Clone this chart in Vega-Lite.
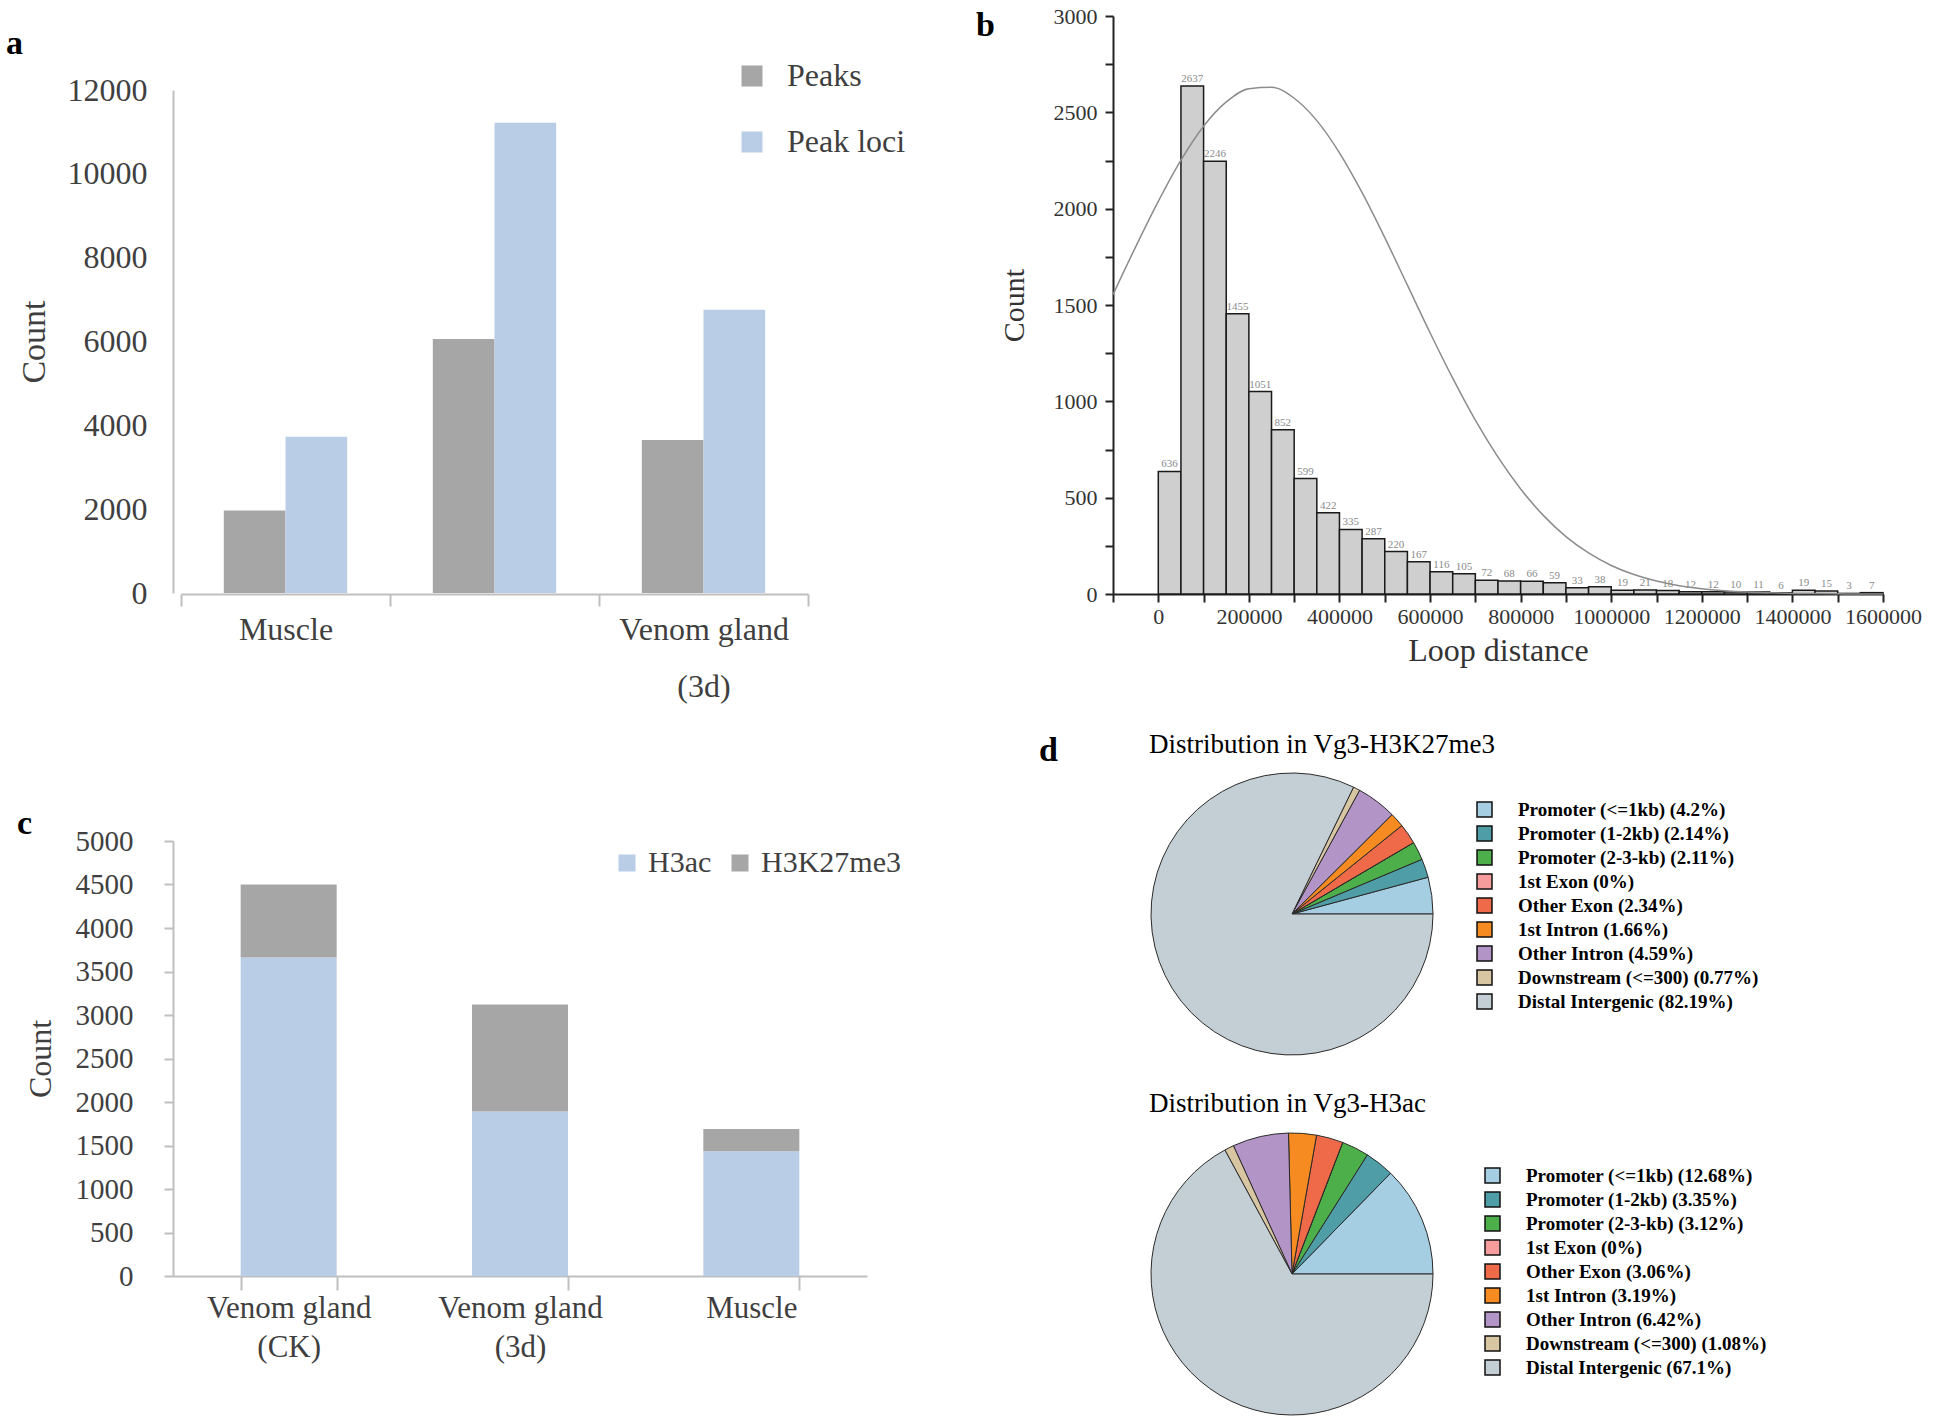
{
  "$schema": "https://vega.github.io/schema/vega-lite/v6.json",
  "background": "white",
  "padding": {"left": 6, "top": 5, "right": 0, "bottom": 0},
  "config": {"view": {"stroke": null}, "font": "Liberation Serif"},
  "datasets": {
    "bins": [
      {"start": 0, "end": 50000, "mid": 25000, "count": 636},
      {"start": 50000, "end": 100000, "mid": 75000, "count": 2637},
      {"start": 100000, "end": 150000, "mid": 125000, "count": 2246},
      {"start": 150000, "end": 200000, "mid": 175000, "count": 1455},
      {"start": 200000, "end": 250000, "mid": 225000, "count": 1051},
      {"start": 250000, "end": 300000, "mid": 275000, "count": 852},
      {"start": 300000, "end": 350000, "mid": 325000, "count": 599},
      {"start": 350000, "end": 400000, "mid": 375000, "count": 422},
      {"start": 400000, "end": 450000, "mid": 425000, "count": 335},
      {"start": 450000, "end": 500000, "mid": 475000, "count": 287},
      {"start": 500000, "end": 550000, "mid": 525000, "count": 220},
      {"start": 550000, "end": 600000, "mid": 575000, "count": 167},
      {"start": 600000, "end": 650000, "mid": 625000, "count": 116},
      {"start": 650000, "end": 700000, "mid": 675000, "count": 105},
      {"start": 700000, "end": 750000, "mid": 725000, "count": 72},
      {"start": 750000, "end": 800000, "mid": 775000, "count": 68},
      {"start": 800000, "end": 850000, "mid": 825000, "count": 66},
      {"start": 850000, "end": 900000, "mid": 875000, "count": 59},
      {"start": 900000, "end": 950000, "mid": 925000, "count": 33},
      {"start": 950000, "end": 1000000, "mid": 975000, "count": 38},
      {"start": 1000000, "end": 1050000, "mid": 1025000, "count": 19},
      {"start": 1050000, "end": 1100000, "mid": 1075000, "count": 21},
      {"start": 1100000, "end": 1150000, "mid": 1125000, "count": 18},
      {"start": 1150000, "end": 1200000, "mid": 1175000, "count": 12},
      {"start": 1200000, "end": 1250000, "mid": 1225000, "count": 12},
      {"start": 1250000, "end": 1300000, "mid": 1275000, "count": 10},
      {"start": 1300000, "end": 1350000, "mid": 1325000, "count": 11},
      {"start": 1350000, "end": 1400000, "mid": 1375000, "count": 6},
      {"start": 1400000, "end": 1450000, "mid": 1425000, "count": 19},
      {"start": 1450000, "end": 1500000, "mid": 1475000, "count": 15},
      {"start": 1500000, "end": 1550000, "mid": 1525000, "count": 3},
      {"start": 1550000, "end": 1600000, "mid": 1575000, "count": 7}
    ]
  },
  "spacing": 70,
  "resolve": {"scale": {"color": "independent", "theta": "independent"}, "legend": {"color": "independent"}},
  "hconcat": [
    {
      "spacing": 105,
      "resolve": {"scale": {"color": "independent"}, "legend": {"color": "independent"}},
      "vconcat": [
        {
          "width": 635,
          "height": 578,
          "layer": [
            {
              "data": {"values": [
                {"tissue": "Muscle", "series": "Peaks", "count": 1970},
                {"tissue": "Muscle", "series": "Peak loci", "count": 3730},
                {"tissue": "Venom gland (CK)", "series": "Peaks", "count": 6060},
                {"tissue": "Venom gland (CK)", "series": "Peak loci", "count": 11220},
                {"tissue": "Venom gland (3d)", "series": "Peaks", "count": 3650},
                {"tissue": "Venom gland (3d)", "series": "Peak loci", "count": 6760}
              ]},
              "mark": {"type": "bar"},
              "encoding": {
                "x": {"field": "tissue", "type": "nominal", "sort": ["Muscle", "Venom gland (CK)", "Venom gland (3d)"],
                  "scale": {"range": [8, 635], "paddingInner": 0, "paddingOuter": 0},
                  "axis": {"title": null, "labelAngle": 0, "tickBand": "extent", "domainColor": "#bfbfbf", "domainWidth": 2, "tickColor": "#bfbfbf", "tickWidth": 2, "tickSize": 12, "labelPadding": 8, "labelFontSize": 32, "labelColor": "#3f3f3f", "labelFont": "Liberation Serif", "labelLineHeight": 57, "labelBaseline": "top",
                    "labelExpr": "datum.value == 'Venom gland (3d)' ? ['Venom gland', '(3d)'] : (datum.value == 'Muscle' ? 'Muscle' : '')"}},
                "xOffset": {"field": "series", "type": "nominal", "sort": ["Peaks", "Peak loci"], "scale": {"paddingOuter": 0.694, "paddingInner": 0}},
                "y": {"field": "count", "type": "quantitative", "scale": {"domain": [0, 12000], "range": [577, 74], "nice": false},
                  "axis": {"values": [0, 2000, 4000, 6000, 8000, 10000, 12000], "format": "d", "grid": false, "ticks": false, "domainColor": "#bfbfbf", "domainWidth": 2, "labelPadding": 26, "labelFontSize": 32, "labelColor": "#3f3f3f", "title": "Count", "titleFontSize": 34, "titleFontWeight": "normal", "titleColor": "#3f3f3f", "titlePadding": 16}},
                "color": {"field": "series", "type": "nominal", "scale": {"domain": ["Peaks", "Peak loci"], "range": ["#a6a6a6", "#bacde7"]},
                  "legend": {"title": null, "orient": "none", "legendX": 563, "legendY": 44, "symbolType": "square", "symbolSize": 441, "symbolStrokeWidth": 0, "labelFontSize": 32, "labelColor": "#3f3f3f", "labelFont": "Liberation Serif", "labelOffset": 19, "rowPadding": 34}}
              }
            },
            {
              "data": {"values": [{"letter": "a"}]},
              "mark": {"type": "text", "align": "left", "baseline": "alphabetic", "dx": -484.5, "dy": -251, "fontSize": 34, "fontWeight": "bold", "font": "Liberation Serif", "color": "#000"},
              "encoding": {"text": {"field": "letter", "type": "nominal"}}
            }
          ]
        },
        {
          "width": 694,
          "height": 435,
          "layer": [
            {
              "data": {"values": [
                {"tissue": "Venom gland (CK)", "mark": "H3ac", "count": 3660},
                {"tissue": "Venom gland (CK)", "mark": "H3K27me3", "count": 840},
                {"tissue": "Venom gland (3d)", "mark": "H3ac", "count": 1890},
                {"tissue": "Venom gland (3d)", "mark": "H3K27me3", "count": 1230},
                {"tissue": "Muscle", "mark": "H3ac", "count": 1435},
                {"tissue": "Muscle", "mark": "H3K27me3", "count": 255}
              ]},
              "mark": {"type": "bar"},
              "encoding": {
                "x": {"field": "tissue", "type": "nominal", "sort": ["Venom gland (CK)", "Venom gland (3d)", "Muscle"],
                  "scale": {"paddingInner": 0.585, "paddingOuter": 0.2925},
                  "axis": {"title": null, "labelAngle": 0, "tickBand": "extent", "domainColor": "#bfbfbf", "domainWidth": 2, "tickColor": "#bfbfbf", "tickWidth": 2, "tickSize": 14, "labelPadding": 3, "labelFontSize": 31, "labelColor": "#3f3f3f", "labelFont": "Liberation Serif", "labelLineHeight": 39, "labelBaseline": "top",
                    "labelExpr": "datum.value == 'Venom gland (CK)' ? ['Venom gland', '(CK)'] : (datum.value == 'Venom gland (3d)' ? ['Venom gland', '(3d)'] : (datum.value == 'Muscle' ? 'Muscle' : ''))"}},
                "y": {"field": "count", "type": "quantitative", "stack": "zero", "scale": {"domain": [0, 5000], "nice": false},
                  "axis": {"values": [0, 500, 1000, 1500, 2000, 2500, 3000, 3500, 4000, 4500, 5000], "format": "d", "grid": false, "tickSize": 9, "tickColor": "#bfbfbf", "tickWidth": 2, "domainColor": "#bfbfbf", "domainWidth": 2, "labelPadding": 31, "labelFontSize": 29, "labelColor": "#3f3f3f", "title": "Count", "titleFontSize": 32, "titleFontWeight": "normal", "titleColor": "#3f3f3f", "titlePadding": 18}},
                "color": {"field": "mark", "type": "nominal", "scale": {"domain": ["H3ac", "H3K27me3"], "range": ["#bacde7", "#a6a6a6"]},
                  "legend": {"title": null, "orient": "none", "direction": "horizontal", "legendX": 439, "legendY": 7, "symbolType": "square", "symbolSize": 289, "symbolStrokeWidth": 0, "labelFontSize": 30, "labelColor": "#3f3f3f", "labelFont": "Liberation Serif", "labelOffset": 6, "columnPadding": 13}},
                "order": {"field": "mark", "type": "nominal", "sort": "descending"}
              }
            },
            {
              "data": {"values": [{"letter": "c"}]},
              "mark": {"type": "text", "align": "left", "baseline": "alphabetic", "dx": -503, "dy": -224.5, "fontSize": 34, "fontWeight": "bold", "font": "Liberation Serif", "color": "#000"},
              "encoding": {"text": {"field": "letter", "type": "nominal"}}
            }
          ]
        }
      ]
    },
    {
      "spacing": 65,
      "resolve": {"scale": {"color": "independent", "theta": "independent"}, "legend": {"color": "independent"}},
      "vconcat": [
        {
          "width": 770,
          "height": 578,
          "layer": [
            {
              "data": {"name": "bins"},
              "mark": {"type": "bar", "fill": "#cfcfcf", "stroke": "#1a1a1a", "strokeWidth": 1.5},
              "encoding": {
                "x": {"field": "start", "type": "quantitative", "scale": {"domain": [-100000, 1600000], "nice": false, "zero": false},
                  "axis": {"title": "Loop distance", "values": [-100000, 0, 100000, 200000, 300000, 400000, 500000, 600000, 700000, 800000, 900000, 1000000, 1100000, 1200000, 1300000, 1400000, 1500000, 1600000], "format": "d", "labelExpr": "(datum.value >= 0 && datum.value % 200000 == 0) ? datum.label : ''", "grid": false, "domainColor": "#222", "domainWidth": 2, "tickColor": "#222", "tickWidth": 2, "tickSize": 8, "labelPadding": 4, "labelFontSize": 22, "labelColor": "#333", "labelFlush": false, "labelOverlap": false, "titleFontSize": 32, "titleFontWeight": "normal", "titleColor": "#333", "titlePadding": 8}},
                "x2": {"field": "end"},
                "y": {"field": "count", "type": "quantitative", "scale": {"domain": [0, 3000], "nice": false},
                  "axis": {"title": "Count", "values": [0, 250, 500, 750, 1000, 1250, 1500, 1750, 2000, 2250, 2500, 2750, 3000], "format": "d", "labelExpr": "datum.value % 500 == 0 ? datum.label : ''", "grid": false, "domainColor": "#222", "domainWidth": 2, "tickColor": "#222", "tickWidth": 2, "tickSize": 8, "labelPadding": 8, "labelFontSize": 22, "labelColor": "#333", "labelOverlap": false, "titleFontSize": 30, "titleFontWeight": "normal", "titleColor": "#333", "titlePadding": 24}},
                "y2": {"datum": 0}
              }
            },
            {
              "data": {"name": "bins"},
              "mark": {"type": "text", "baseline": "bottom", "dy": -2, "fontSize": 11, "color": "#8a8a8a", "font": "Liberation Serif"},
              "encoding": {
                "x": {"field": "mid", "type": "quantitative"},
                "y": {"field": "count", "type": "quantitative"},
                "text": {"field": "count", "type": "quantitative"}
              }
            },
            {
              "data": {"values": [
                {"x": -100000, "y": 1554}, {"x": -50000, "y": 1802}, {"x": 0, "y": 2038}, {"x": 50000, "y": 2252},
                {"x": 100000, "y": 2428}, {"x": 150000, "y": 2554}, {"x": 200000, "y": 2623}, {"x": 250000, "y": 2630},
                {"x": 300000, "y": 2573}, {"x": 350000, "y": 2457}, {"x": 400000, "y": 2290}, {"x": 450000, "y": 2083},
                {"x": 500000, "y": 1850}, {"x": 550000, "y": 1603}, {"x": 600000, "y": 1356}, {"x": 650000, "y": 1120},
                {"x": 700000, "y": 902}, {"x": 750000, "y": 710}, {"x": 800000, "y": 545}, {"x": 850000, "y": 408},
                {"x": 900000, "y": 298}, {"x": 950000, "y": 213}, {"x": 1000000, "y": 148}, {"x": 1050000, "y": 101},
                {"x": 1100000, "y": 67}, {"x": 1150000, "y": 43}, {"x": 1200000, "y": 27}, {"x": 1250000, "y": 17},
                {"x": 1300000, "y": 10}, {"x": 1350000, "y": 6}, {"x": 1400000, "y": 3}, {"x": 1450000, "y": 2},
                {"x": 1500000, "y": 1}, {"x": 1550000, "y": 0}, {"x": 1600000, "y": 0}
              ]},
              "mark": {"type": "line", "color": "#8c8c8c", "strokeWidth": 1.5, "interpolate": "monotone"},
              "encoding": {
                "x": {"field": "x", "type": "quantitative"},
                "y": {"field": "y", "type": "quantitative"}
              }
            },
            {
              "data": {"values": [{"letter": "b"}]},
              "mark": {"type": "text", "align": "left", "baseline": "alphabetic", "dx": -522, "dy": -269, "fontSize": 34, "fontWeight": "bold", "font": "Liberation Serif", "color": "#000"},
              "encoding": {"text": {"field": "letter", "type": "nominal"}}
            }
          ]
        },
        {
          "spacing": 33,
          "resolve": {"scale": {"color": "independent", "theta": "independent"}, "legend": {"color": "independent"}},
          "vconcat": [
            {
              "width": 358,
              "height": 282,
              "layer": [
                {
                  "data": {"values": [
                    {"idx": 1, "label": "Promoter (<=1kb) (4.2%)", "pct": 4.2},
                    {"idx": 2, "label": "Promoter (1-2kb) (2.14%)", "pct": 2.14},
                    {"idx": 3, "label": "Promoter (2-3-kb) (2.11%)", "pct": 2.11},
                    {"idx": 4, "label": "1st Exon (0%)", "pct": 0},
                    {"idx": 5, "label": "Other Exon (2.34%)", "pct": 2.34},
                    {"idx": 6, "label": "1st Intron (1.66%)", "pct": 1.66},
                    {"idx": 7, "label": "Other Intron (4.59%)", "pct": 4.59},
                    {"idx": 8, "label": "Downstream (<=300) (0.77%)", "pct": 0.77},
                    {"idx": 9, "label": "Distal Intergenic (82.19%)", "pct": 82.19}
                  ]},
                  "mark": {"type": "arc", "stroke": "#2a2a2a", "strokeWidth": 1},
                  "encoding": {
                    "theta": {"field": "pct", "type": "quantitative", "scale": {"range": [1.5708, 7.854]}},
                    "color": {"field": "label", "type": "nominal",
                      "scale": {"domain": ["Promoter (<=1kb) (4.2%)", "Promoter (1-2kb) (2.14%)", "Promoter (2-3-kb) (2.11%)", "1st Exon (0%)", "Other Exon (2.34%)", "1st Intron (1.66%)", "Other Intron (4.59%)", "Downstream (<=300) (0.77%)", "Distal Intergenic (82.19%)"],
                        "range": ["#a6cee3", "#4f9da6", "#4daf4a", "#f79c9c", "#ef6a48", "#f68b21", "#b394c6", "#d8c6a2", "#c4cfd5"]},
                      "legend": {"title": null, "orient": "none", "legendX": 362, "legendY": 27, "symbolType": "square", "symbolSize": 225, "symbolStrokeColor": "#111", "symbolStrokeWidth": 1.5, "labelFont": "Liberation Serif", "labelFontWeight": "bold", "labelFontSize": 19, "labelColor": "#000", "labelOffset": 24, "rowPadding": 3, "labelLimit": 400}},
                    "order": {"field": "idx", "type": "quantitative", "sort": "descending"}
                  }
                },
                {
                  "data": {"values": [{"t": "Distribution in Vg3-H3K27me3"}]},
                  "mark": {"type": "text", "align": "left", "baseline": "middle", "dx": -143, "dy": -169, "fontSize": 27, "font": "Liberation Serif", "color": "#000"},
                  "encoding": {"text": {"field": "t", "type": "nominal"}}
                },
                {
                  "data": {"values": [{"letter": "d"}]},
                  "mark": {"type": "text", "align": "left", "baseline": "alphabetic", "dx": -253, "dy": -153, "fontSize": 34, "fontWeight": "bold", "font": "Liberation Serif", "color": "#000"},
                  "encoding": {"text": {"field": "letter", "type": "nominal"}}
                }
              ]
            },
            {
              "width": 358,
              "height": 282,
              "layer": [
                {
                  "data": {"values": [
                    {"idx": 1, "label": "Promoter (<=1kb) (12.68%)", "pct": 12.68},
                    {"idx": 2, "label": "Promoter (1-2kb) (3.35%)", "pct": 3.35},
                    {"idx": 3, "label": "Promoter (2-3-kb) (3.12%)", "pct": 3.12},
                    {"idx": 4, "label": "1st Exon (0%)", "pct": 0},
                    {"idx": 5, "label": "Other Exon (3.06%)", "pct": 3.06},
                    {"idx": 6, "label": "1st Intron (3.19%)", "pct": 3.19},
                    {"idx": 7, "label": "Other Intron (6.42%)", "pct": 6.42},
                    {"idx": 8, "label": "Downstream (<=300) (1.08%)", "pct": 1.08},
                    {"idx": 9, "label": "Distal Intergenic (67.1%)", "pct": 67.1}
                  ]},
                  "mark": {"type": "arc", "stroke": "#2a2a2a", "strokeWidth": 1},
                  "encoding": {
                    "theta": {"field": "pct", "type": "quantitative", "scale": {"range": [1.5708, 7.854]}},
                    "color": {"field": "label", "type": "nominal",
                      "scale": {"domain": ["Promoter (<=1kb) (12.68%)", "Promoter (1-2kb) (3.35%)", "Promoter (2-3-kb) (3.12%)", "1st Exon (0%)", "Other Exon (3.06%)", "1st Intron (3.19%)", "Other Intron (6.42%)", "Downstream (<=300) (1.08%)", "Distal Intergenic (67.1%)"],
                        "range": ["#a6cee3", "#4f9da6", "#4daf4a", "#f79c9c", "#ef6a48", "#f68b21", "#b394c6", "#d8c6a2", "#c4cfd5"]},
                      "legend": {"title": null, "orient": "none", "legendX": 370, "legendY": 33, "symbolType": "square", "symbolSize": 225, "symbolStrokeColor": "#111", "symbolStrokeWidth": 1.5, "labelFont": "Liberation Serif", "labelFontWeight": "bold", "labelFontSize": 19, "labelColor": "#000", "labelOffset": 24, "rowPadding": 3, "labelLimit": 400}},
                    "order": {"field": "idx", "type": "quantitative", "sort": "descending"}
                  }
                },
                {
                  "data": {"values": [{"t": "Distribution in Vg3-H3ac"}]},
                  "mark": {"type": "text", "align": "left", "baseline": "middle", "dx": -143, "dy": -170, "fontSize": 27, "font": "Liberation Serif", "color": "#000"},
                  "encoding": {"text": {"field": "t", "type": "nominal"}}
                }
              ]
            }
          ]
        }
      ]
    }
  ]
}
